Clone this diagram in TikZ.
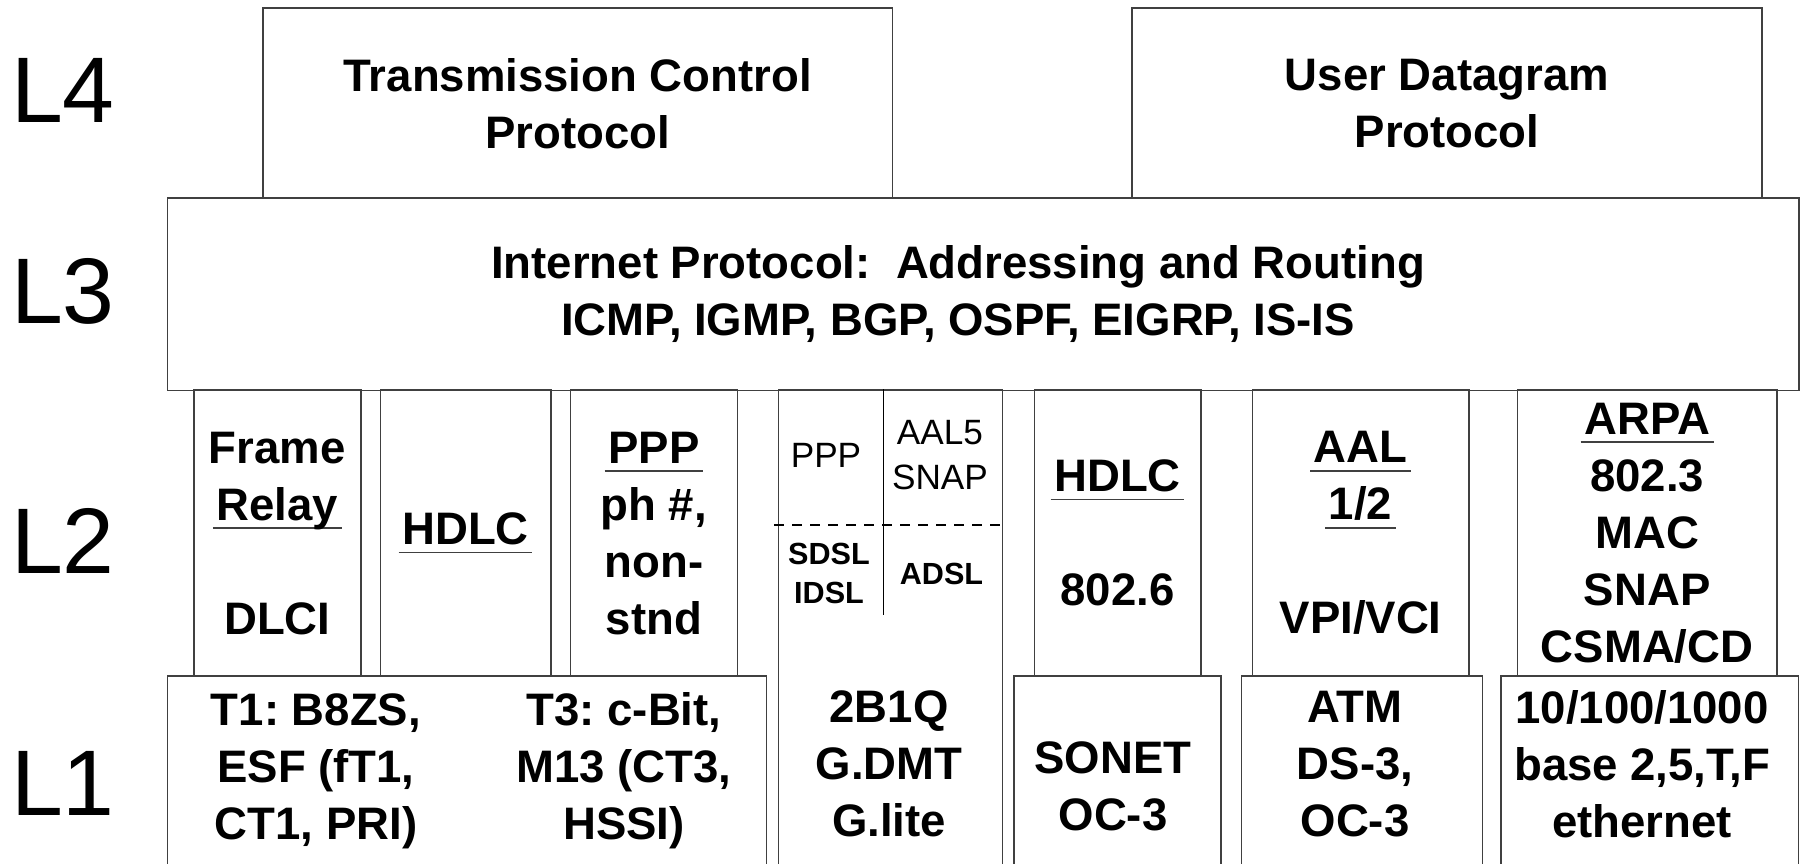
\documentclass[tikz,border=0pt]{standalone}
\usepackage{fontspec}
\setmainfont{Liberation Sans}
\frenchspacing
\definecolor{ink}{HTML}{404040}
% underline drawn at a fixed depth, through the descenders
\newsavebox\ulbox
\newcommand\ulword[1]{\sbox\ulbox{#1}%
  \rlap{\kern-0.08em\textcolor{ink}{\rule[-0.19em]{\dimexpr\wd\ulbox+0.16em\relax}{0.035em}}}%
  \usebox\ulbox}
\tikzset{
  cell/.style={draw=ink, line width=0.45pt, anchor=north west, inner sep=0pt,
               align=center, font=\fontsize{12.95pt}{16.2pt}\selectfont\bfseries},
  txt/.style={inner sep=0pt, align=center,
              font=\fontsize{12.95pt}{16.2pt}\selectfont\bfseries},
  lvl/.style={inner sep=0pt, anchor=base, font=\fontsize{26.5pt}{30pt}\selectfont},
  sm/.style={inner sep=0pt, align=center, font=\fontsize{10pt}{12.8pt}\selectfont},
  smb/.style={inner sep=0pt, align=center,
              font=\fontsize{8.7pt}{11.1pt}\selectfont\bfseries},
  split/.style={draw=black, line width=0.3pt},
}

\begin{document}
\begin{tikzpicture}[x=0.01cm, y=-0.01cm]
  \useasboundingbox (0,0) rectangle (1805,864);
  \clip (0,0) rectangle (1805,864);
  \fill[white] (0,0) rectangle (1805,864);

  % ---------------------------------------------------------- layer names
  \node[lvl] (l4) at (63,122.7) {L4};
  \node[lvl] (l3) at (63,324) {L3};
  \node[lvl] (l2) at (63,574) {L2};
  \node[lvl] (l1) at (63,815.7) {L1};

  % ---------------------------------------------------------- transport
  \node[cell, minimum width=6.295cm, minimum height=1.9cm] (tcp) at (262,7.5)
    {Transmission Control\\Protocol};
  \node[cell, minimum width=6.3cm, minimum height=1.9cm] (udp) at (1131,7.5)
    {User Datagram\\Protocol};

  % ---------------------------------------------------------- network
  \node[cell, minimum width=16.31cm, minimum height=1.92cm] (ip) at (166.5,197.5) {};
  \node[txt] (iptxt) at (958,294)
    {Internet Protocol:\ \ Addressing and Routing\\
     ICMP, IGMP, BGP, OSPF, EIGRP, IS-IS};

  % ---------------------------------------------------------- data link
  \node[cell, minimum width=1.67cm, minimum height=2.855cm] (fr) at (193,389.5)
    {Frame\\\ulword{Relay}\\ \\DLCI};
  \node[cell, minimum width=1.705cm, minimum height=2.855cm] (hdlc) at (379.5,389.5)
    {\ulword{HDLC}};
  \node[cell, minimum width=1.67cm, minimum height=2.855cm] (ppp) at (569.5,389.5)
    {\ulword{PPP}\\ph \#,\\non-\\stnd};
  \node[cell, minimum width=1.665cm, minimum height=2.855cm] (hdlcb) at (1033.5,389.5)
    {\ulword{HDLC}\\ \\802.6};
  \node[cell, minimum width=2.165cm, minimum height=2.855cm] (aal) at (1251.5,389.5)
    {\ulword{AAL}\\\ulword{1/2}\\ \\VPI/VCI};
  \node[cell, minimum width=2.595cm, minimum height=2.855cm] (arpa) at (1516.5,389.5)
    {\ulword{ARPA}\\802.3\\MAC\\SNAP\\CSMA/CD};

  % DSL column runs through both lower layers
  \node[cell, minimum width=2.24cm, minimum height=5cm] (dsl) at (777.5,389.5) {};
  \draw[split] (dsl.north west) ++(106,0) -- ++(0,225.5);
  \draw[split, dash pattern=on 0.1cm off 0.08cm] (774,525) -- (1000,525);
  \node[sm] (dslppp) at (826,455.5) {PPP};
  \node[sm] (dslaal) at (940,455) {AAL5\\SNAP};
  \node[smb] (sdsl) at (829,573) {SDSL\\IDSL};
  \node[smb] (adsl) at (941.5,574) {ADSL};
  \node[txt] (dslphy) at (889,764) {2B1Q\\G.DMT\\G.lite};

  % ---------------------------------------------------------- physical
  \node[cell, minimum width=5.99cm, minimum height=2.1cm] (pdh) at (166.5,675) {};
  \node[txt] (t1) at (316,771) {T1: B8ZS,\\ESF (fT1,\\CT1, PRI)};
  \node[txt] (t3) at (624,771) {T3: c-Bit,\\M13 (CT3,\\HSSI)};
  \node[cell, minimum width=2.07cm, minimum height=2.1cm] (sonet) at (1013,675) {};
  \node[txt] (sonettxt) at (1113,786.7) {SONET\\OC-3};
  \node[cell, minimum width=2.41cm, minimum height=2.1cm] (atm) at (1240.5,675) {};
  \node[txt] (atmtxt) at (1355,764) {ATM\\DS-3,\\OC-3};
  \node[cell, minimum width=2.975cm, minimum height=2.1cm] (eth) at (1500,675) {};
  \node[txt] (ethtxt) at (1642,764) {10/100/1000\\base 2,5,T,F\\ethernet};
\end{tikzpicture}
\end{document}
